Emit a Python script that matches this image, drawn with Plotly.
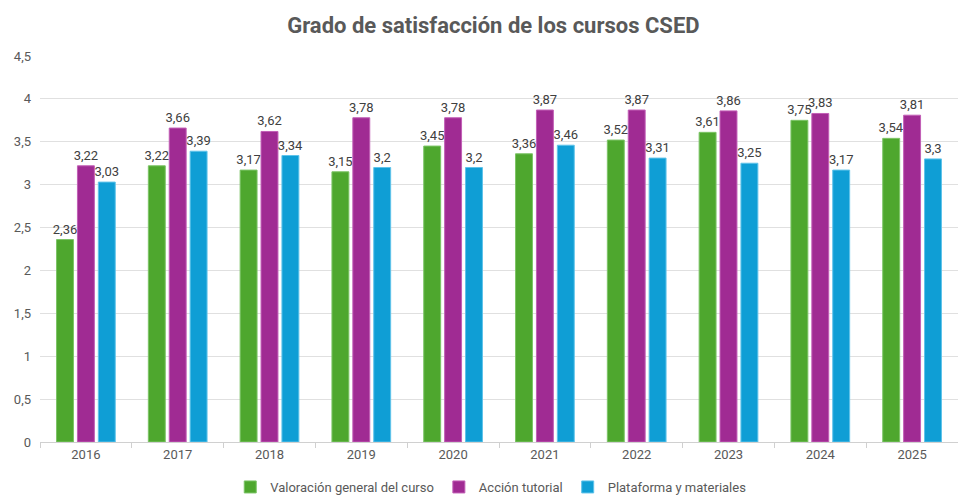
import plotly.graph_objects as go

years = ["2016", "2017", "2018", "2019", "2020", "2021", "2022", "2023", "2024", "2025"]
valoracion = [2.36, 3.22, 3.17, 3.15, 3.45, 3.36, 3.52, 3.61, 3.75, 3.54]
accion = [3.22, 3.66, 3.62, 3.78, 3.78, 3.87, 3.87, 3.86, 3.83, 3.81]
plataforma = [3.03, 3.39, 3.34, 3.2, 3.2, 3.46, 3.31, 3.25, 3.17, 3.3]

series = [
    ("Valoración general del curso", valoracion, "#4EA72E", "#7cc466"),
    ("Acción tutorial", accion, "#A02B93", "#c25fb6"),
    ("Plataforma y materiales", plataforma, "#0F9ED5", "#5fc3ea"),
]

def fmt(v):
    s = ("%.2f" % v).rstrip("0").rstrip(".")
    return s.replace(".", ",")

fig = go.Figure()
for name, vals, col, edge in series:
    fig.add_trace(go.Bar(
        x=years, y=vals, name=name,
        marker=dict(color=col, line=dict(color=edge, width=1)),
        text=[fmt(v) for v in vals], textposition="outside",
        constraintext="none",
        textfont=dict(size=13, color="#404040", family="Roboto"),
        cliponaxis=False,
    ))

fig.update_layout(
    width=958, height=502,
    margin=dict(l=40, r=0, t=56, b=55),
    paper_bgcolor="white", plot_bgcolor="white",
    barmode="group", bargap=0.317, bargroupgap=0.19,
    title=dict(text="<b>Grado de satisfacción de los cursos CSED</b>",
               x=0.515, xanchor="center", y=0.95, yanchor="middle",
               font=dict(size=22, color="#595959", family="Roboto")),
    font=dict(family="Roboto", color="#595959", size=13),
    legend=dict(orientation="h", x=0.491, xanchor="center", y=-0.118, yanchor="middle",
                font=dict(size=13, color="#595959"), itemwidth=30, traceorder="normal"),
)
fig.update_yaxes(range=[0, 4.5], dtick=0.5, tickformat=".1~f",
                 gridcolor="#e0e0e0", gridwidth=1, zeroline=False, showline=False,
                 ticks="", ticklabelstandoff=8, tickfont=dict(size=13, color="#595959"))
fig.update_xaxes(type="category", showline=True, linecolor="#d0d0d0", ticks="outside",
                 tickson="boundaries", tickcolor="#d0d0d0", ticklen=5,
                 tickfont=dict(size=13, color="#595959"))
fig.update_layout(separators=", ")
fig.write_html("out.html")
